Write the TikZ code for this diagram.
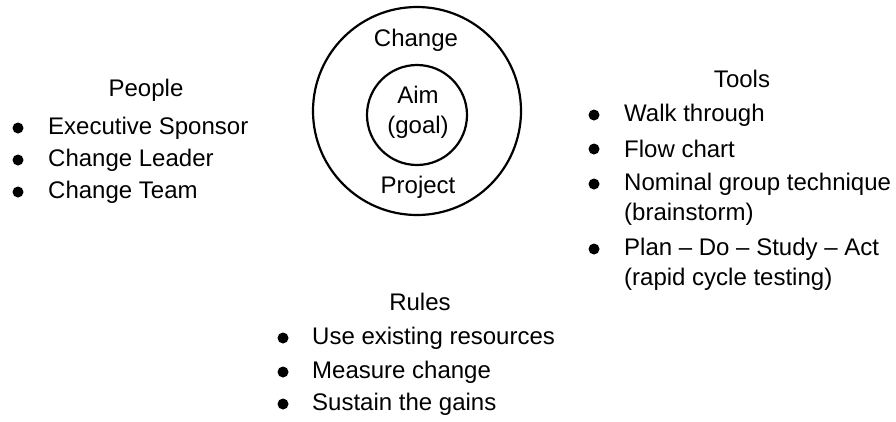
\documentclass[tikz,border=0pt]{standalone}
\usepackage{fontspec}
\setmainfont{Liberation Sans}
\usepackage{xcolor}
\usepackage{tikz}

\tikzset{
  txt/.style={font=\fontsize{24}{30}\selectfont, inner sep=0pt},
  item/.style={txt, anchor=west, align=left},
  dot/.style={circle, fill=black, inner sep=0pt, minimum size=11pt}
}

\begin{document}
\begin{tikzpicture}[x=1pt, y=-1pt]
        \useasboundingbox (0,0) rectangle (896,421);

        % Define the circles
        \node[circle, draw, line width=2.2pt, minimum size=208pt] (outer) at (417,111) {};
        \node[circle, draw, line width=2.2pt, minimum size=100pt] (inner) at (417,115) {};
        \node[txt] (change) at (416,40) {Change};
        \node[txt, align=center] (aim) at (418,112) {Aim\\(goal)};
        \node[txt] (project) at (418,187) {Project};

        % People
        \node[txt] (people) at (146,90) {People};
        \node[dot] (p1) at (18,128) {};
        \node[item] (pe1) at (48,128) {Executive Sponsor};
        \node[dot] (p2) at (18,160) {};
        \node[item] (pe2) at (48,160) {Change Leader};
        \node[dot] (p3) at (18,192) {};
        \node[item] (pe3) at (48,192) {Change Team};

        % Tools
        \node[txt] (tools) at (742,79) {Tools};
        \node[dot] (t1) at (594,115) {};
        \node[item] (to1) at (624,115) {Walk through};
        \node[dot] (t2) at (594,149) {};
        \node[item] (to2) at (624,149) {Flow chart};
        \node[dot] (t3) at (594,184) {};
        \node[item] (to3) at (624,199) {Nominal group technique\\(brainstorm)};
        \node[dot] (t4) at (594,249) {};
        \node[item] (to4) at (624,264) {Plan -- Do -- Study -- Act\\(rapid cycle testing)};

        % Rules
        \node[txt] (rules) at (420,302) {Rules};
        \node[dot] (r1) at (283,338) {};
        \node[item] (ru1) at (312,338) {Use existing resources};
        \node[dot] (r2) at (283,372) {};
        \node[item] (ru2) at (312,372) {Measure change};
        \node[dot] (r3) at (283,404) {};
        \node[item] (ru3) at (312,404) {Sustain the gains};
    \end{tikzpicture}
\end{document}
